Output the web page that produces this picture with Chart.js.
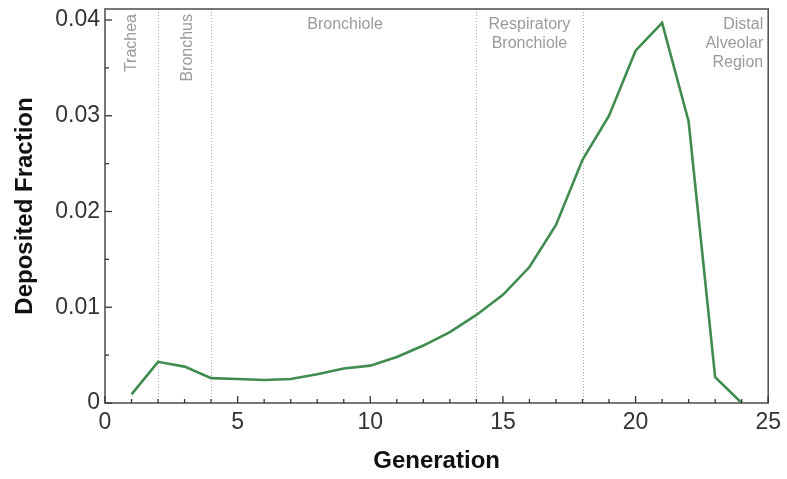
<!DOCTYPE html>
<html>
<head>
<meta charset="utf-8">
<script src="https://cdn.jsdelivr.net/npm/chart.js@4.4.1/dist/chart.umd.min.js"></script>
<style>
html,body{margin:0;padding:0;background:#fff;}
#wrap{width:787px;height:479px;position:relative;}
</style>
</head>
<body>
<div id="wrap"><canvas id="c" width="787" height="479"></canvas></div>
<script>
// ---- data ----
const generations = [1,2,3,4,5,6,7,8,9,10,11,12,13,14,15,16,17,18,19,20,21,22,23,24];
const depositedFraction = [0.0009,0.0043,0.0038,0.0026,0.0025,0.0024,0.0025,0.0030,0.0036,0.0039,0.0048,0.0060,0.0074,0.0092,0.0113,0.0142,0.0186,0.0254,0.0300,0.0368,0.0397,0.0294,0.0027,0.0000];
const xTickValues = [0,5,10,15,20,25];
const yTickValues = [0,0.01,0.02,0.03,0.04];
const yTickLabels = ['0','0.01','0.02','0.03','0.04'];
const regionBoundaries = [2,4,14,18];
const regionNames = [['Trachea'],['Bronchus'],['Bronchiole'],['Respiratory','Bronchiole'],['Distal','Alveolar','Region']];
const regionLabelX = [1.0,3.1,9.05,16,25];

const FONT = "'Liberation Sans', Arial, Helvetica, sans-serif";
const GREEN = '#3f8c4e';

const decor = {
  id:'decor',
  beforeDatasetsDraw(chart){
    const {ctx, chartArea:a, scales:{x,y}} = chart;
    ctx.save();
    // dotted region boundaries
    ctx.strokeStyle = '#a8a8a8';
    ctx.lineWidth = 1;
    ctx.setLineDash([1,2]);
    regionBoundaries.forEach(g=>{
      const px = Math.round(x.getPixelForValue(g))+0.5;
      ctx.beginPath(); ctx.moveTo(px,a.top); ctx.lineTo(px,a.bottom); ctx.stroke();
    });
    ctx.setLineDash([]);
    // region labels
    ctx.fillStyle = '#9a9a9a';
    ctx.font = '16px ' + FONT;
    [0,1].forEach(i=>{
      const px = x.getPixelForValue(regionLabelX[i]);
      ctx.save();
      ctx.translate(px, a.top+5);
      ctx.rotate(-Math.PI/2);
      ctx.textAlign='right'; ctx.textBaseline='middle';
      ctx.fillText(regionNames[i][0],0,0);
      ctx.restore();
    });
    ctx.textBaseline='middle';
    [2,3].forEach(i=>{
      const px = x.getPixelForValue(regionLabelX[i]);
      ctx.textAlign='center';
      regionNames[i].forEach((t,k)=>ctx.fillText(t,px,a.top+16+k*19));
    });
    {
      const px = x.getPixelForValue(regionLabelX[4]) - 5;
      ctx.textAlign='right';
      regionNames[4].forEach((t,k)=>ctx.fillText(t,px,a.top+16+k*19));
    }
    ctx.restore();
  },
  afterDraw(chart){
    const {ctx, chartArea:a, scales:{x,y}} = chart;
    ctx.save();
    ctx.strokeStyle = '#555';
    ctx.lineWidth = 1.6;
    ctx.strokeRect(a.left, a.top, a.right-a.left, a.bottom-a.top);
    ctx.lineWidth = 1.3;
    ctx.strokeStyle = '#333';
    for(let g=0; g<=25; g++){
      const px = x.getPixelForValue(g);
      const len = (g%5===0) ? 7 : 4;
      ctx.beginPath(); ctx.moveTo(px,a.bottom); ctx.lineTo(px,a.bottom-len); ctx.stroke();
    }
    for(let k=0; k<=8; k++){
      const v = k*0.005;
      const py = y.getPixelForValue(v);
      const len = (k%2===0) ? 7 : 4;
      ctx.beginPath(); ctx.moveTo(a.left,py); ctx.lineTo(a.left+len,py); ctx.stroke();
    }
    ctx.restore();
  }
};

new Chart(document.getElementById('c'), {
  type:'line',
  data:{
    datasets:[{
      data: generations.map((g,i)=>({x:g,y:depositedFraction[i]})),
      borderColor: GREEN,
      borderWidth: 2.6,
      pointRadius: 0,
      tension: 0,
      fill:false
    }]
  },
  options:{
    responsive:false,
    animation:false,
    layout:{padding:{left:0,top:9,right:18,bottom:0}},
    plugins:{legend:{display:false},tooltip:{enabled:false}},
    scales:{
      x:{
        type:'linear', min:0, max:25,
        afterBuildTicks(s){ s.ticks = xTickValues.map(v=>({value:v})); },
        afterFit(s){ s.height = 76; },
        grid:{display:false, drawTicks:false},
        border:{display:false},
        ticks:{color:'#333', font:{family:FONT,size:23}, padding:6, maxRotation:0, autoSkip:false,
          callback:(v)=>String(v)},
        title:{display:true, text:'Generation', color:'#111', font:{family:FONT,size:24,weight:'bold'}, padding:{top:0,bottom:3}}
      },
      y:{
        type:'linear', min:0, max:0.04115,
        afterBuildTicks(s){ s.ticks = yTickValues.map(v=>({value:v})); },
        afterFit(s){ s.width = 105; s.paddingTop = 0; s.paddingBottom = 0; },
        grid:{display:false, drawTicks:false},
        border:{display:false},
        ticks:{color:'#333', font:{family:FONT,size:23,lineHeight:0.6}, padding:5, autoSkip:false,
          callback:(v)=>{ const i = yTickValues.findIndex(t=>Math.abs(t-v)<1e-9); return i>=0 ? yTickLabels[i] : ''; }},
        title:{display:true, text:'Deposited Fraction', color:'#111', font:{family:FONT,size:24,weight:'bold'}, padding:{top:11,bottom:0}}
      }
    }
  },
  plugins:[decor]
});
</script>
</body>
</html>
